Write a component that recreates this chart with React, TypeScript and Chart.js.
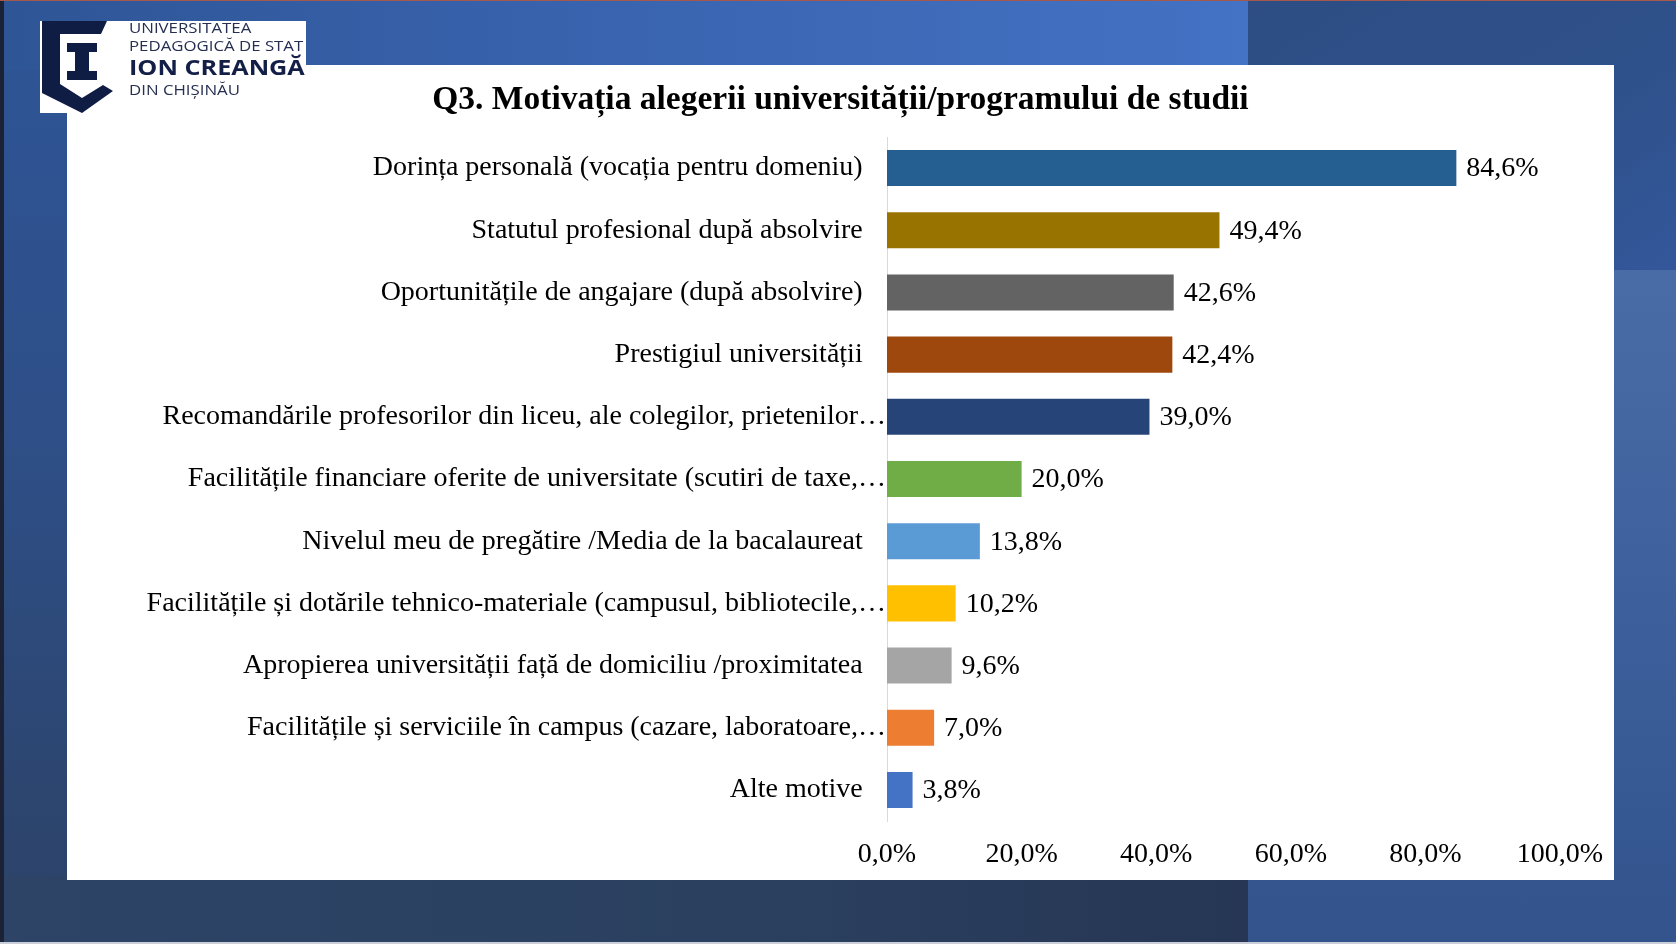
import React, { useEffect, useRef } from 'react';
import { Chart, registerables } from 'chart.js';

Chart.register(...registerables);

const chartTitle = 'Q3. Motivația alegerii universității/programului de studii';

const categories = [
  'Dorința personală (vocația pentru domeniu)',
  'Statutul profesional după absolvire',
  'Oportunitățile de angajare (după absolvire)',
  'Prestigiul universității',
  'Recomandările profesorilor din liceu, ale colegilor, prietenilor…',
  'Facilitățile financiare oferite de universitate (scutiri de taxe,…',
  'Nivelul meu de pregătire /Media de la bacalaureat',
  'Facilitățile și dotările tehnico-materiale (campusul, bibliotecile,…',
  'Apropierea universității față de domiciliu /proximitatea',
  'Facilitățile și serviciile în campus (cazare, laboratoare,…',
  'Alte motive',
];

const values = [84.6, 49.4, 42.6, 42.4, 39.0, 20.0, 13.8, 10.2, 9.6, 7.0, 3.8];

const barColors = [
  '#255E91',
  '#997300',
  '#636363',
  '#9E480E',
  '#264478',
  '#70AD47',
  '#5B9BD5',
  '#FFC000',
  '#A5A5A5',
  '#ED7D31',
  '#4472C4',
];

const axisMin = 0;
const axisMax = 100;
const axisStep = 20;

const SERIF = "'Liberation Serif', 'Times New Roman', serif";
const FONT_SIZE = 28;

const fmt = (v: number) => v.toFixed(1).replace('.', ',') + '%';

const valueLabelPlugin = {
  id: 'valueLabels',
  afterDatasetsDraw(chart: any) {
    const ctx = chart.ctx;
    const meta = chart.getDatasetMeta(0);
    ctx.save();
    ctx.font = `${FONT_SIZE}px ${SERIF}`;
    ctx.fillStyle = '#000';
    ctx.textAlign = 'left';
    ctx.textBaseline = 'middle';
    meta.data.forEach((bar: any, i: number) => {
      const v = chart.data.datasets[0].data[i] as number;
      ctx.fillText(fmt(v), bar.x + 10, bar.y + 1);
    });
    ctx.restore();
  },
};

const logoText: React.CSSProperties = {
  position: 'absolute',
  left: 0,
  fontSize: 14,
  lineHeight: '14px',
  transform: 'scaleX(1.2)',
  transformOrigin: 'left center',
};

export default function App() {
  const ref = useRef<HTMLCanvasElement>(null);

  useEffect(() => {
    if (!ref.current) return;
    const chart = new Chart(ref.current, {
      type: 'bar',
      data: {
        labels: categories,
        datasets: [
          {
            data: values,
            backgroundColor: barColors,
            borderWidth: 0,
            barPercentage: 0.58,
            categoryPercentage: 1,
          },
        ],
      },
      options: {
        indexAxis: 'y',
        responsive: false,
        animation: false,
        devicePixelRatio: 1,
        layout: { padding: { left: 0, right: 54, top: 72, bottom: 8 } },
        plugins: {
          legend: { display: false },
          tooltip: { enabled: false },
          title: { display: false },
        },
        scales: {
          x: {
            min: axisMin,
            max: axisMax,
            ticks: {
              stepSize: axisStep,
              callback: (v: any) => fmt(Number(v)),
              color: '#000',
              font: { family: SERIF, size: FONT_SIZE },
              padding: 17,
              maxRotation: 0,
              minRotation: 0,
              autoSkip: false,
            },
            grid: { display: false, drawTicks: false },
            border: { display: false },
            afterFit: (s: any) => {
              s.height = 51;
              s.paddingLeft = 0;
              s.paddingRight = 0;
            },
          },
          y: {
            ticks: {
              color: '#000',
              font: { family: SERIF, size: FONT_SIZE },
              padding: 1,
              autoSkip: false,
              callback: (_v: any, i: number) => {
                const lbl = categories[i];
                return lbl.endsWith('…') ? lbl : lbl + '\u2002\u2005\u200A';
              },
            },
            grid: { display: false, drawTicks: false },
            border: { display: true, color: '#D9D9D9', width: 1 },
            afterFit: (s: any) => {
              s.width = 820;
              s.paddingTop = 0;
              s.paddingBottom = 0;
            },
          },
        },
      } as any,
      plugins: [valueLabelPlugin],
    });
    return () => chart.destroy();
  }, []);

  return (
    <div
      style={{
        position: 'fixed',
        left: 0,
        top: 0,
        width: 1676,
        height: 944,
        overflow: 'hidden',
        background: '#2c4266',
      }}
    >
      {/* left background region */}
      <div
        style={{
          position: 'absolute',
          left: 0,
          top: 0,
          width: 1248,
          height: 944,
          background: 'linear-gradient(to bottom, #2f5597 0%, #2e4f88 45%, #2c4266 100%)',
        }}
      />
      {/* top strip */}
      <div
        style={{
          position: 'absolute',
          left: 0,
          top: 0,
          width: 1248,
          height: 70,
          background: 'linear-gradient(to right, #2e5595 0%, #3761ab 40%, #4472c4 100%)',
        }}
      />
      {/* bottom strip */}
      <div
        style={{
          position: 'absolute',
          left: 0,
          top: 876,
          width: 1248,
          height: 68,
          background: 'linear-gradient(to right, #2d4467 0%, #2b405f 60%, #263654 100%)',
        }}
      />
      {/* right regions */}
      <div
        style={{
          position: 'absolute',
          left: 1248,
          top: 0,
          width: 428,
          height: 270,
          background: 'linear-gradient(to bottom right, #2d4d84 0%, #2f518b 60%, #33579a 100%)',
        }}
      />
      <div
        style={{
          position: 'absolute',
          left: 1248,
          top: 270,
          width: 428,
          height: 674,
          background: 'linear-gradient(to bottom, #4a6ca6 0%, #3d609c 50%, #32538c 100%)',
        }}
      />
      {/* left dark edge and top/bottom hairlines */}
      <div style={{ position: 'absolute', left: 0, top: 0, width: 4, height: 944, background: '#1b2236' }} />
      <div style={{ position: 'absolute', left: 0, top: 0, width: 1676, height: 1, background: '#a5584c' }} />
      <div style={{ position: 'absolute', left: 0, top: 942, width: 1676, height: 2, background: '#c9ced8' }} />

      {/* white panel with chart */}
      <div
        style={{
          position: 'absolute',
          left: 67,
          top: 65,
          width: 1547,
          height: 815,
          background: '#ffffff',
        }}
      >
        <canvas
          ref={ref}
          width={1547}
          height={815}
          style={{ display: 'block', width: 1547, height: 815 }}
        />
        <div
          style={{
            position: 'absolute',
            left: 0,
            top: 13,
            width: 1547,
            textAlign: 'center',
            fontFamily: SERIF,
            fontWeight: 700,
            fontSize: 33.5,
            lineHeight: '40px',
            color: '#000',
            whiteSpace: 'nowrap',
          }}
        >
          {chartTitle}
        </div>
      </div>

      {/* logo */}
      <div
        style={{
          position: 'absolute',
          left: 40,
          top: 21,
          width: 266,
          height: 92,
          background: '#ffffff',
        }}
      >
        <svg
          width={266}
          height={92}
          viewBox="40 21 266 92"
          style={{ position: 'absolute', left: 0, top: 0 }}
        >
          <path
            d="M42,21 L107,21 L101,34 L60,34 L60,84 L82,98 L103,85 L113,91 L82,113 L42,93 Z"
            fill="#0f1d45"
          />
          <path
            d="M67,43 H97 V52 H89 V71 H97 V80 H67 V71 H75 V52 H67 Z"
            fill="#0f1d45"
          />
        </svg>
        <div
          style={{
            position: 'absolute',
            left: 89,
            top: 0,
            fontFamily: "'Open Sans', 'Noto Sans', sans-serif",
            color: '#262f52',
            whiteSpace: 'nowrap',
          }}
        >
          <div style={{ ...logoText, top: 0 }}>UNIVERSITATEA</div>
          <div style={{ ...logoText, top: 18 }}>PEDAGOGICĂ DE STAT</div>
          <div
            style={{
              ...logoText,
              top: 35,
              fontSize: 21,
              lineHeight: '22px',
              fontWeight: 700,
              color: '#141f48',
            }}
          >
            ION CREANGĂ
          </div>
          <div style={{ ...logoText, top: 62 }}>DIN CHIȘINĂU</div>
        </div>
      </div>
    </div>
  );
}
